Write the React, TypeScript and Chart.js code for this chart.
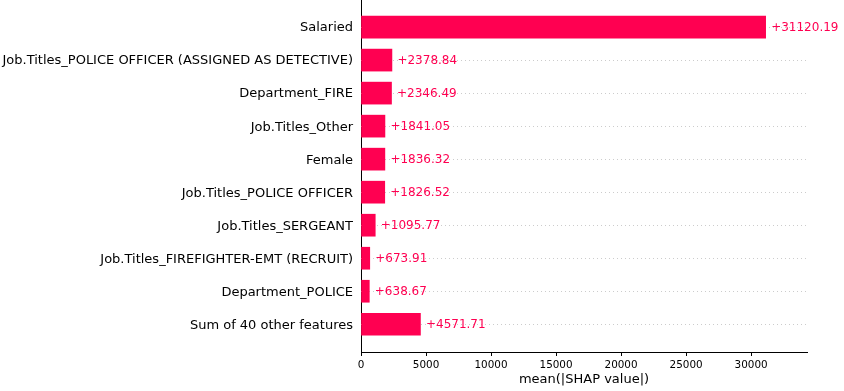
import React, { useEffect, useRef } from "react";
import { Chart, registerables } from "chart.js";

Chart.register(...registerables);

const features = [
  "Salaried",
  "Job.Titles_POLICE OFFICER (ASSIGNED AS DETECTIVE)",
  "Department_FIRE",
  "Job.Titles_Other",
  "Female",
  "Job.Titles_POLICE OFFICER",
  "Job.Titles_SERGEANT",
  "Job.Titles_FIREFIGHTER-EMT (RECRUIT)",
  "Department_POLICE",
  "Sum of 40 other features",
];

const shapValues = [
  31120.19, 2378.84, 2346.49, 1841.05, 1836.32, 1826.52, 1095.77, 673.91, 638.67, 4571.71,
];

const xTicks = [0, 5000, 10000, 15000, 20000, 25000, 30000];

const PINK = "#ff0051";
const FONT = "'DejaVu Sans', sans-serif";

const gridAndLabels = {
  id: "gridAndLabels",
  beforeDatasetsDraw(chart: any) {
    const { ctx, chartArea, scales } = chart;
    ctx.save();
    ctx.strokeStyle = "#cccccc";
    ctx.lineWidth = 1;
    ctx.setLineDash([1, 3]);
    features.forEach((_, i) => {
      const y = Math.round(scales.y.getPixelForValue(i)) + 0.5;
      ctx.beginPath();
      ctx.moveTo(chartArea.left, y);
      ctx.lineTo(chartArea.right, y);
      ctx.stroke();
    });
    ctx.restore();
  },
  afterDatasetsDraw(chart: any) {
    const { ctx, scales } = chart;
    ctx.save();
    ctx.fillStyle = PINK;
    ctx.font = `12px ${FONT}`;
    ctx.textAlign = "left";
    ctx.textBaseline = "middle";
    shapValues.forEach((v, i) => {
      const x = scales.x.getPixelForValue(v) + 5.5;
      const y = scales.y.getPixelForValue(i) + 0.5;
      ctx.fillText("+" + v.toFixed(2), x, y);
    });
    ctx.restore();
  },
};

export default function App() {
  const ref = useRef<HTMLCanvasElement | null>(null);

  useEffect(() => {
    if (!ref.current) return;
    Chart.defaults.font.family = FONT;
    const chart = new Chart(ref.current, {
      type: "bar",
      data: {
        datasets: [
          {
            data: shapValues.map((v, i) => ({ x: v, y: i })),
            backgroundColor: PINK,
            borderWidth: 0,
            barThickness: 22,
          },
        ],
      },
      options: {
        indexAxis: "y",
        animation: false,
        responsive: false,
        maintainAspectRatio: false,
        layout: { padding: { left: 0, right: 37, top: 0, bottom: 0 } },
        plugins: { legend: { display: false }, tooltip: { enabled: false } },
        scales: {
          y: {
            type: "linear",
            reverse: true,
            offset: false,
            min: -0.82,
            max: 9.84,
            afterBuildTicks: (scale: any) => {
              scale.ticks = features.map((_, i) => ({ value: i }));
            },
            afterFit: (scale: any) => {
              scale.width = 361;
              scale.paddingTop = 0;
              scale.paddingBottom = 0;
            },
            grid: { display: false, drawTicks: false, offset: false },
            border: { display: true, color: "#000", width: 1 },
            ticks: {
              padding: 8,
              labelOffset: 1,
              color: "#000",
              font: { size: 13, family: FONT },
              autoSkip: false,
              callback: (v: any) => features[v as number] ?? "",
            },
          },
          x: {
            type: "linear",
            min: 0,
            max: 34300,
            afterBuildTicks: (scale: any) => {
              scale.ticks = xTicks.map((v) => ({ value: v }));
            },
            afterFit: (scale: any) => {
              scale.height = 39;
            },
            grid: {
              display: true,
              drawOnChartArea: false,
              drawTicks: true,
              tickLength: 4,
              color: "#000",
            },
            border: { display: true, color: "#000", width: 1 },
            ticks: {
              padding: 3,
              color: "#000",
              maxRotation: 0,
              font: { size: 10.4, family: FONT },
              callback: (v: any) => String(v),
            },
            title: {
              display: true,
              text: "mean(|SHAP value|)",
              color: "#000",
              font: { size: 13, family: FONT },
              padding: { top: 0, bottom: 4 },
            },
          },
        },
      },
      plugins: [gridAndLabels],
    });
    return () => chart.destroy();
  }, []);

  return (
    <div style={{ position: "absolute", left: 0, top: 0, width: 844, height: 391, background: "#fff" }}>
      <canvas ref={ref} width={844} height={391} style={{ width: 844, height: 391, display: "block" }} />
    </div>
  );
}
